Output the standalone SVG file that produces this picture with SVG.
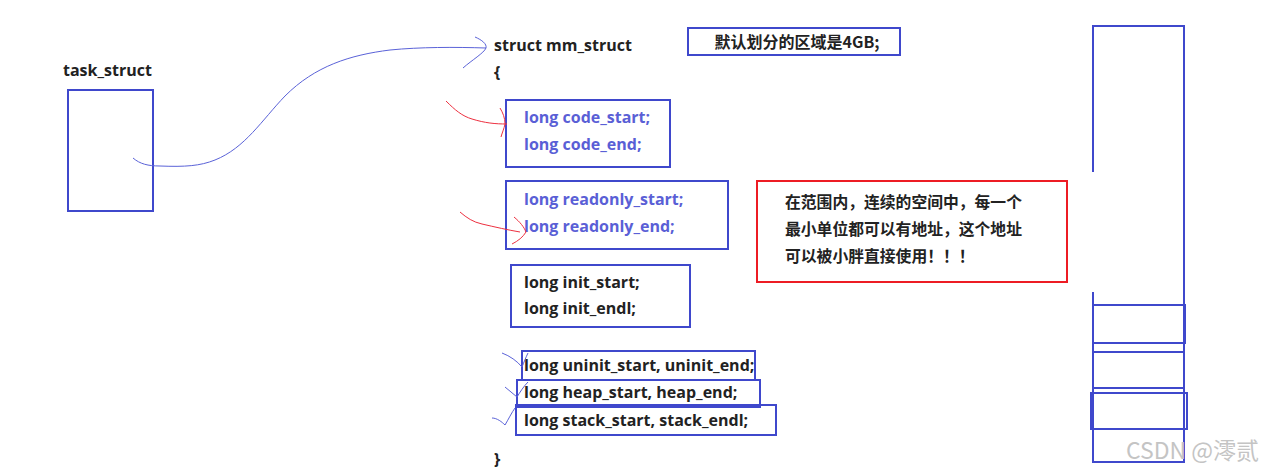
<svg xmlns="http://www.w3.org/2000/svg" width="1268" height="471" viewBox="0 0 1268 471">
<style>
.t{font-family:"Open Sans","Noto Sans CJK SC",sans-serif;font-weight:bold;font-size:16px;fill:#222}
.c{fill:#5a5fd6}
.z{font-family:"Noto Sans CJK SC",sans-serif;font-weight:bold;font-size:15.8px;fill:#222}
.b{fill:none;stroke:#3f48cc;stroke-width:2}
.r{fill:none;stroke:#ed1c24;stroke-width:2}
.hb{fill:none;stroke:#5a62d8;stroke-width:1}
.hr{fill:none;stroke:#ed3040;stroke-width:1}
</style>
<rect width="1268" height="471" fill="#fff"/>
<g id="task_struct">
<text class="t" x="63" y="76">task_struct</text>
<rect class="b" x="68" y="90" width="85" height="121"/>
</g>
<g id="mm_struct">
<text class="t" x="494" y="51">struct mm_struct</text>
<text class="t" x="494" y="78">{</text>
<text class="t" x="494" y="465">}</text>
</g>
<g id="note_4gb">
<rect class="b" x="688" y="28" width="212" height="27"/>
<text class="z" x="797" y="48" text-anchor="middle" style="font-size:16px">默认划分的区域是4GB;</text>
</g>
<g id="code">
<rect class="b" x="506" y="100" width="164" height="67"/>
<text class="t c" x="524" y="123">long code_start;</text>
<text class="t c" x="524" y="150">long code_end;</text>
</g>
<g id="readonly">
<rect class="b" x="506" y="181" width="222" height="68"/>
<text class="t c" x="524" y="205">long readonly_start;</text>
<text class="t c" x="524" y="232">long readonly_end;</text>
</g>
<g id="init">
<rect class="b" x="511" y="265" width="179" height="62"/>
<text class="t" x="524" y="288">long init_start;</text>
<text class="t" x="524" y="314">long init_endl;</text>
</g>
<g id="uninit">
<rect class="b" x="522" y="351" width="233" height="29"/>
<text class="t" x="524" y="371">long uninit_start, uninit_end;</text>
</g>
<g id="heap">
<rect class="b" x="517" y="380" width="243" height="27"/>
<text class="t" x="524" y="398">long heap_start, heap_end;</text>
</g>
<g id="stack">
<rect class="b" x="516" y="405" width="260" height="30"/>
<text class="t" x="524" y="426">long stack_start, stack_endl;</text>
</g>
<g id="note_address">
<rect class="r" x="757" y="181" width="310" height="101"/>
<text class="z" x="785" y="208">在范围内，连续的空间中，每一个</text>
<text class="z" x="785" y="235">最小单位都可以有地址，这个地址</text>
<text class="z" x="785" y="262">可以被小胖直接使用！！！</text>
</g>
<g id="memory_column">
<path class="b" d="M1093 172V26H1184V462H1093V292"/>
<rect class="b" x="1093" y="305" width="92" height="38"/>
<path class="b" d="M1093 352H1184M1093 388H1184"/>
<rect class="b" x="1091" y="393" width="96" height="36"/>
</g>
<g id="connectors">
<path class="hb" d="M133 158C140 164 148 166 160 166C185 167 200 166 215 160C245 148 262 120 285 96C315 66 350 55 390 50C420 47 455 47 486 48"/>
<path class="hb" d="M475 37C482 40 487 44 486 48C484 53 472 60 463 68"/>
<path class="hr" d="M446 101C455 110 462 116 472 119C485 123 495 124 507 124"/>
<path class="hr" d="M500 108C503 113 505 118 505 124C504 129 502 133 501 137"/>
<path class="hr" d="M460 212C467 218 473 222 482 224C495 227 508 230 520 232"/>
<path class="hr" d="M514 217C520 222 524 227 526 232C523 237 518 241 512 244"/>
<path class="hb" d="M502 353C510 356 517 361 522 367C524 362 526 357 528 353"/>
<path class="hb" d="M505 387C509 390 513 394 517 397C520 392 524 386 528 382"/>
<path class="hb" d="M492 418C497 418 502 422 505 425C508 420 512 412 515 408"/>
</g>
<text x="1126" y="459" style="font-family:'Noto Sans CJK SC',sans-serif;font-size:23px;fill:#c4c4c4">CSDN @澪贰</text>
</svg>
